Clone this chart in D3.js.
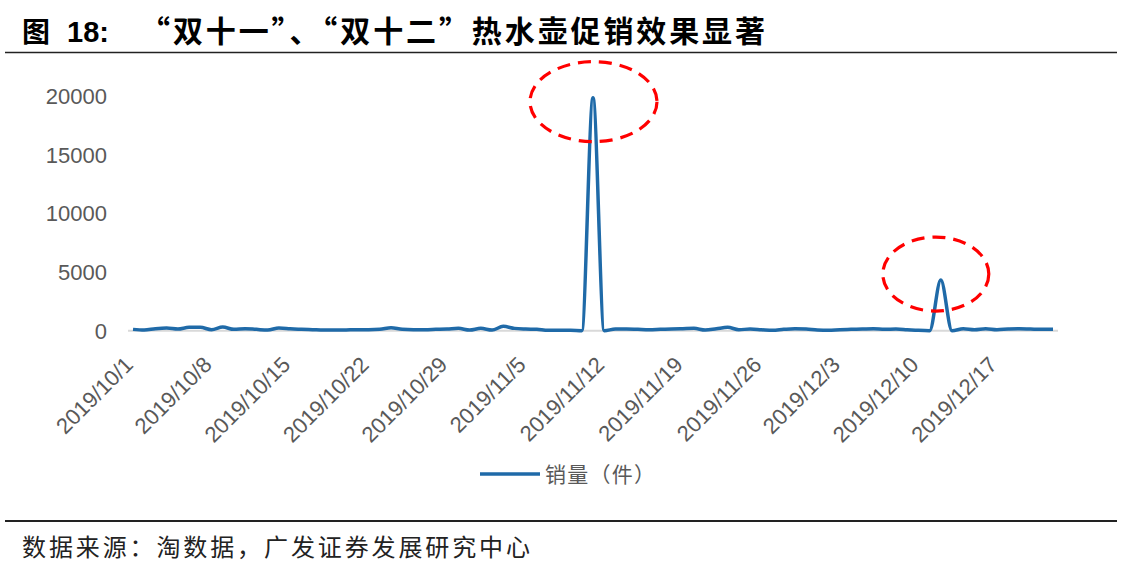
<!DOCTYPE html>
<html>
<head>
<meta charset="utf-8">
<script src="https://cdn.jsdelivr.net/npm/d3@7"></script>
<style>
  html, body { margin: 0; padding: 0; background: #fff; }
  svg { display: block; }
</style>
</head>
<body>
<svg id="chart" width="1123" height="572"></svg>
<script>
// ---- data ----
const titlePrefix = "图";
const titleNumber = "18:";
const titleMain = "“双十一”、“双十二”热水壶促销效果显著";
const sourceText = "数据来源：淘数据，广发证券发展研究中心";
const seriesName = "销量（件）";
const startDate = "2019-10-01";
const endDate = "2019-12-22";
const salesValues = [
  113, 57, 170, 226, 140, 283, 283, 85, 311, 113,
  170, 113, 57, 226, 170, 113, 85, 57, 57, 70,
  85, 85, 113, 255, 113, 85, 85, 113, 140, 198,
  57, 198, 57, 368, 198, 140, 113, 28, 28, 28,
  0, 19800, 0, 140, 140, 113, 85, 113, 140, 170,
  198, 57, 170, 283, 85, 140, 85, 28, 113, 170,
  140, 57, 28, 85, 113, 140, 170, 113, 140, 85,
  28, 0, 4300, 0, 170, 85, 170, 85, 140, 170,
  140, 113, 113
];
const tickLabels = ["2019/10/1","2019/10/8","2019/10/15","2019/10/22","2019/10/29","2019/11/5",
  "2019/11/12","2019/11/19","2019/11/26","2019/12/3","2019/12/10","2019/12/17"];
const yTicks = [0, 5000, 10000, 15000, 20000];
const highlightDates = ["2019/11/11", "2019/12/12"];

// ---- setup ----
const parseISO = d3.timeParse("%Y-%m-%d");
const parseSlash = d3.timeParse("%Y/%m/%d");
const dates = d3.timeDay.range(parseISO(startDate), d3.timeDay.offset(parseISO(endDate), 1));
const data = dates.map((d, i) => ({ date: d, value: salesValues[i] }));

const svg = d3.select("#chart");

const x = d3.scaleTime().domain([parseISO(startDate), parseISO(endDate)]).range([133, 1053]);
const y = d3.scaleLinear().domain([0, 20000]).range([330.7, 95.3]);

const textGray = "#595959";
const cjk = "'Noto Sans CJK SC', sans-serif";
const latin = "'Liberation Sans', Arial, sans-serif";

// title
svg.append("text")
  .attr("x", 22).attr("y", 42)
  .attr("font-family", cjk).attr("font-weight", "bold").attr("font-size", 28)
  .attr("fill", "#000").text(titlePrefix);
svg.append("text")
  .attr("x", 67).attr("y", 42)
  .attr("font-family", latin).attr("font-weight", "bold").attr("font-size", 29)
  .attr("fill", "#000").text(titleNumber);
svg.append("text")
  .attr("x", 140).attr("y", 42)
  .attr("font-family", cjk).attr("font-weight", "bold").attr("font-size", 30)
  .attr("fill", "#000")
  .attr("textLength", 625).attr("lengthAdjust", "spacing")
  .text(titleMain);

svg.append("line").attr("x1", 5).attr("x2", 1117).attr("y1", 52.5).attr("y2", 52.5)
  .attr("stroke", "#222").attr("stroke-width", 1.5);

// y axis labels
const yAxis = d3.axisLeft(y).tickValues(yTicks).tickSize(0).tickPadding(0).tickFormat(d3.format("d"));
const yg = svg.append("g").attr("transform", "translate(107,0)").call(yAxis);
yg.select(".domain").remove();
yg.selectAll("text")
  .attr("font-family", latin)
  .attr("font-size", 22)
  .attr("fill", textGray)
  .attr("dy", "0.36em");

// x axis baseline
svg.append("line").attr("x1", 128).attr("x2", 1058).attr("y1", y(0)).attr("y2", y(0))
  .attr("stroke", "#d9d9d9").attr("stroke-width", 2);

// x axis labels
const tickDates = tickLabels.map(parseSlash);
const xAxis = d3.axisBottom(x).tickValues(tickDates).tickSize(0).tickFormat((d, i) => tickLabels[i]);
const xg = svg.append("g").attr("transform", "translate(0,366)").call(xAxis);
xg.select(".domain").remove();
xg.selectAll(".tick text")
  .attr("font-family", latin)
  .attr("font-size", 22)
  .attr("fill", textGray)
  .attr("text-anchor", "end")
  .attr("x", 0).attr("y", 0).attr("dy", 0)
  .attr("transform", "translate(1,0) rotate(-45)");

// line
const line = d3.line()
  .x(d => x(d.date))
  .y(d => y(d.value))
  .curve(d3.curveMonotoneX);

svg.append("path")
  .datum(data)
  .attr("d", line)
  .attr("fill", "none")
  .attr("stroke", "#1f6aa8")
  .attr("stroke-width", 3.5)
  .attr("stroke-linejoin", "round");

// highlight ellipses
const ellipseSpecs = [{ rx: 63.5, ry: 40, dx: 0.5, dy: 4 }, { rx: 53, ry: 37, dx: -5, dy: -6 }];
highlightDates.forEach((ds, i) => {
  const d = parseSlash(ds);
  const v = salesValues[d3.timeDay.count(parseISO(startDate), d)];
  svg.append("ellipse")
    .attr("cx", x(d) + ellipseSpecs[i].dx)
    .attr("cy", y(v) + ellipseSpecs[i].dy)
    .attr("rx", ellipseSpecs[i].rx)
    .attr("ry", ellipseSpecs[i].ry)
    .attr("fill", "none")
    .attr("stroke", "#ff0000")
    .attr("stroke-width", 3.2)
    .attr("stroke-dasharray", "13,8");
});

// legend
svg.append("line").attr("x1", 480).attr("x2", 540).attr("y1", 474).attr("y2", 474)
  .attr("stroke", "#1f6aa8").attr("stroke-width", 3.5);
svg.append("text")
  .attr("x", 545).attr("y", 482)
  .attr("font-family", cjk)
  .attr("font-size", 21)
  .attr("fill", textGray)
  .attr("textLength", 110).attr("lengthAdjust", "spacing")
  .text(seriesName);

// bottom rule & source
svg.append("line").attr("x1", 5).attr("x2", 1117).attr("y1", 521).attr("y2", 521)
  .attr("stroke", "#222").attr("stroke-width", 2);
svg.append("text")
  .attr("x", 22).attr("y", 556)
  .attr("font-family", cjk)
  .attr("font-size", 24)
  .attr("fill", "#222")
  .attr("textLength", 508).attr("lengthAdjust", "spacing")
  .text(sourceText);
</script>
</body>
</html>
